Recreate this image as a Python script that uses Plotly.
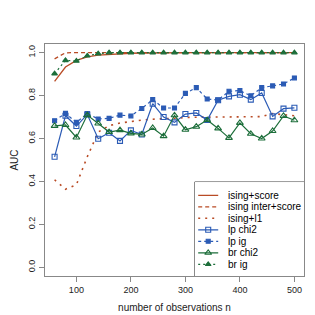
import plotly.graph_objects as go

# ---------------- data ----------------
n_obs = [60, 80, 100, 120, 140, 160, 180, 200, 220, 240, 260, 280, 300,
         320, 340, 360, 380, 400, 420, 440, 460, 480, 500]

ising_score = [0.866, 0.933, 0.964, 0.980, 0.988, 0.992, 0.995, 0.997, 0.998, 0.999, 1.0, 1.0, 1.0,
               1.0, 1.0, 1.0, 1.0, 1.0, 1.0, 1.0, 1.0, 1.0, 1.0]
ising_inter_score = [0.971, 0.999, 1.0, 1.0, 1.0, 1.0, 1.0, 1.0, 1.0, 1.0, 1.0, 1.0, 1.0,
                     1.0, 1.0, 1.0, 1.0, 1.0, 1.0, 1.0, 1.0, 1.0, 1.0]
ising_l1 = [0.408, 0.364, 0.385, 0.515, 0.630, 0.660, 0.672, 0.680, 0.686, 0.690, 0.691, 0.694, 0.698,
            0.700, 0.700, 0.700, 0.700, 0.700, 0.700, 0.702, 0.716, 0.710, 0.706]
lp_chi2 = [0.515, 0.706, 0.658, 0.712, 0.599, 0.627, 0.589, 0.638, 0.619, 0.762, 0.700, 0.675, 0.714,
           0.719, 0.686, 0.778, 0.796, 0.804, 0.781, 0.812, 0.703, 0.739, 0.743]
lp_ig = [0.683, 0.717, 0.675, 0.716, 0.691, 0.694, 0.709, 0.705, 0.740, 0.781, 0.742, 0.742, 0.810,
         0.837, 0.784, 0.779, 0.820, 0.823, 0.799, 0.837, 0.845, 0.854, 0.882]
br_chi2 = [0.659, 0.663, 0.605, 0.709, 0.670, 0.630, 0.639, 0.624, 0.619, 0.649, 0.611, 0.708, 0.641,
           0.655, 0.686, 0.647, 0.603, 0.673, 0.622, 0.600, 0.635, 0.705, 0.685]
br_ig = [0.902, 0.964, 0.961, 0.985, 0.995, 1.0, 1.0, 1.0, 1.0, 1.0, 1.0, 1.0, 1.0,
         1.0, 1.0, 1.0, 1.0, 1.0, 1.0, 1.0, 1.0, 1.0, 1.0]

series_names = ["ising+score", "ising inter+score", "ising+l1",
                "lp chi2", "lp ig", "br chi2", "br ig"]
series_values = [ising_score, ising_inter_score, ising_l1, lp_chi2, lp_ig, br_chi2, br_ig]

x_ticks = [100, 200, 300, 400, 500]
y_ticks = [0.0, 0.2, 0.4, 0.6, 0.8, 1.0]
y_tick_labels = ["0.0", "0.2", "0.4", "0.6", "0.8", "1.0"]

# ---------------- styles ----------------
C_ISING = "#B94B25"
C_LP = "#2B5BB5"
C_BR = "#1C6E3A"
styles = [
    dict(color=C_ISING, dash="solid", width=1.3, symbol=None, msize=0),
    dict(color=C_ISING, dash="4px,3px", width=1.3, symbol=None, msize=0),
    dict(color=C_ISING, dash="2px,5px", width=1.6, symbol=None, msize=0),
    dict(color=C_LP, dash="solid", width=1.2, symbol="square-open", msize=5),
    dict(color=C_LP, dash="3px,3px", width=1.2, symbol="square", msize=4),
    dict(color=C_BR, dash="solid", width=1.2, symbol="triangle-up-open", msize=6),
    dict(color=C_BR, dash="2px,3px", width=1.2, symbol="triangle-up", msize=5),
]

FONT = "Liberation Sans, Arial, sans-serif"
fig = go.Figure()

for name, vals, st in zip(series_names, series_values, styles):
    mode = "lines+markers" if st["symbol"] else "lines"
    fig.add_trace(go.Scatter(
        x=n_obs, y=vals, mode=mode, name=name, showlegend=False,
        line=dict(color=st["color"], dash=st["dash"], width=st["width"]),
        marker=dict(symbol=st["symbol"] or "circle", size=st["msize"], color=st["color"],
                    line=dict(color=st["color"], width=1.1)),
    ))

# ---------------- custom legend (box in lower right) ----------------
leg_w, leg_h = 109.3, 94.0
row0, row_gap = 13.3, 11.5
for i, (name, st) in enumerate(zip(series_names, styles)):
    yy = row0 + i * row_gap
    fig.add_trace(go.Scatter(
        x=[3.5, 23.5], y=[yy, yy], mode="lines", xaxis="x2", yaxis="y2",
        showlegend=False, hoverinfo="skip",
        line=dict(color=st["color"], dash=st["dash"], width=st["width"])))
    if st["symbol"]:
        fig.add_trace(go.Scatter(
            x=[13.5], y=[yy], mode="markers", xaxis="x2", yaxis="y2",
            showlegend=False, hoverinfo="skip",
            marker=dict(symbol=st["symbol"], size=st["msize"], color=st["color"],
                        line=dict(color=st["color"], width=1.1))))
    fig.add_annotation(x=31, y=yy, xref="x2", yref="y2", text=name, showarrow=False,
                       xanchor="left", yanchor="middle",
                       font=dict(family=FONT, size=10, color="#000"))

fig.add_shape(type="rect", xref="paper", yref="paper", x0=0.578, x1=1.0, y0=0.0, y1=0.405,
              line=dict(color="#333", width=1), fillcolor="white", layer="below")

fig.update_layout(
    width=315, height=315,
    margin=dict(l=37, r=19, t=36, b=47),
    paper_bgcolor="white", plot_bgcolor="white",
    font=dict(family=FONT, size=10, color="#222"),
    xaxis=dict(range=[42.4, 517.6], tickvals=x_ticks, ticks="outside", ticklen=5,
               tickcolor="#888", showline=True, mirror=True, linecolor="#888", linewidth=1,
               showgrid=False, zeroline=False, tickfont=dict(size=9),
               title=dict(text="number of observations n", standoff=10, font=dict(size=10)),
               automargin=False),
    yaxis=dict(range=[-0.04, 1.04], tickvals=y_ticks, ticktext=y_tick_labels, ticks="outside",
               ticklen=5, tickcolor="#888", showline=True, mirror=True, linecolor="#888",
               linewidth=1, showgrid=False, zeroline=False, tickangle=-90, tickfont=dict(size=9),
               title=dict(text="AUC", standoff=6, font=dict(size=10)), automargin=False),
    xaxis2=dict(domain=[0.578, 1.0], range=[0, leg_w], visible=False, anchor="y2",
                fixedrange=True),
    yaxis2=dict(domain=[0.0, 0.405], range=[leg_h, 0], visible=False, anchor="x2",
                fixedrange=True),
)

fig.write_html("out.html")
